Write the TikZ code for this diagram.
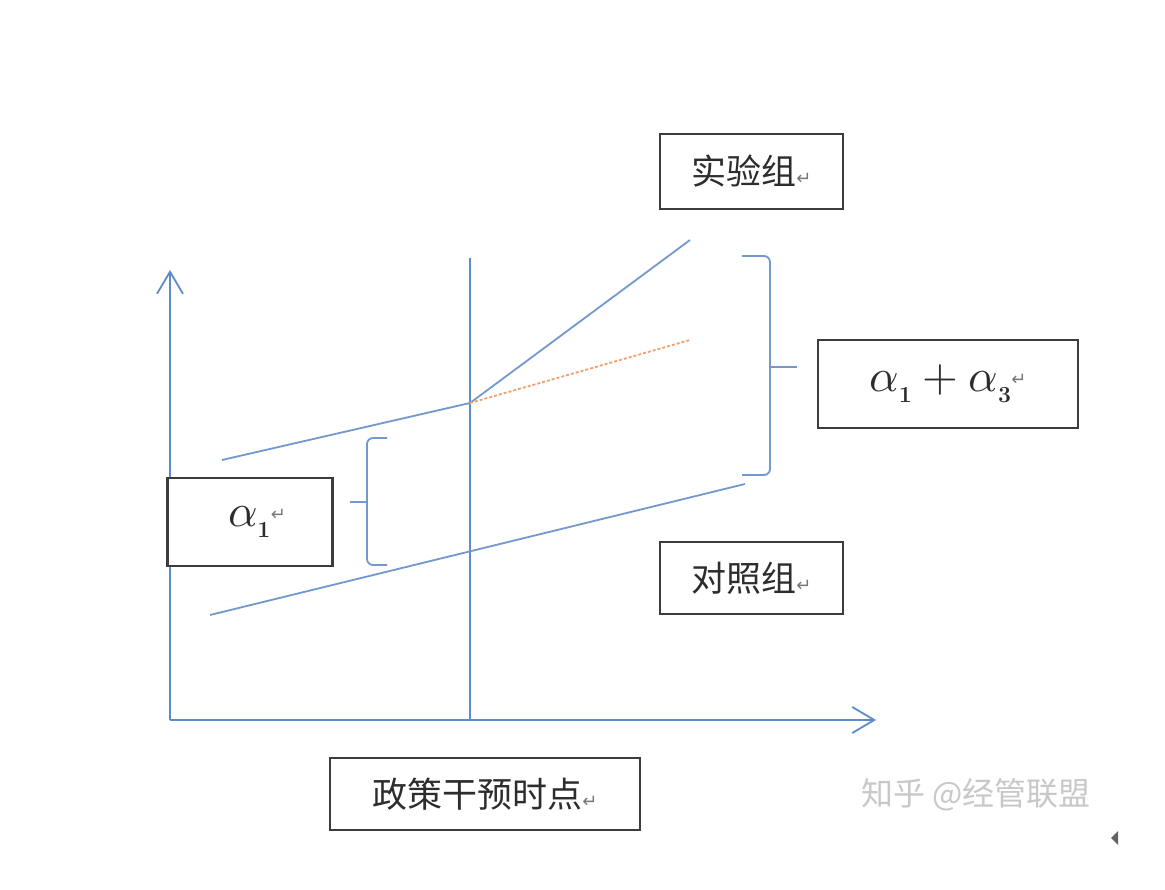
\documentclass[tikz,border=0pt]{standalone}
\usepackage{fontspec}
\usepackage{unicode-math}
\usetikzlibrary{arrows.meta}
\newfontfamily\cjk{Noto Sans CJK SC}
\newfontfamily\dv{DejaVu Sans}
\definecolor{axblue}{RGB}{95,140,200}
\definecolor{lnblue}{RGB}{115,152,205}
\definecolor{dashorange}{RGB}{242,160,110}
\definecolor{boxgray}{RGB}{60,60,60}
\definecolor{txtgray}{RGB}{45,45,45}
\definecolor{retgray}{RGB}{120,120,120}
\definecolor{wmgray}{RGB}{200,200,200}
\newcommand\retmark{{\dv\fontsize{18}{18}\selectfont\color{retgray}↵}}
\begin{document}
\begin{tikzpicture}[x=1pt,y=-1pt,
  ax/.style={draw=axblue,line width=1.8pt},
  ln/.style={draw=lnblue,line width=1.8pt},
  brc/.style={draw=lnblue,line width=1.8pt,rounded corners=6pt},
  dsh/.style={draw=dashorange,line width=1.8pt,dash pattern=on 3pt off 2pt},
  lbox/.style={draw=boxgray,line width=2.8pt,fill=white,inner sep=0pt,align=center,text=txtgray},
  arr/.style={-{Straight Barb[length=22pt,width=26pt]}}
 ]
\fill[white] (0,0) rectangle (1165,890);
\useasboundingbox (0,0) rectangle (1165,890);
% coordinates
\coordinate (O) at (170,720);
\coordinate (Ytop) at (170,270);
\coordinate (Xend) at (876,720);
\coordinate (V0) at (470,258);
\coordinate (V1) at (470,720);
\coordinate (T0) at (222,460);
\coordinate (K) at (470,403);
\coordinate (T1) at (690,240);
\coordinate (D1) at (690,340);
\coordinate (C0) at (210,615);
\coordinate (C1) at (745,484);
% axes
\draw[ax,arr] (O) -- (Ytop);
\draw[ax,arr] (O) -- (Xend);
\draw[ax] (V0) -- (V1);
% lines
\draw[ln] (T0) -- (K) -- (T1);
\draw[dsh] (K) -- (D1);
\draw[ln] (C0) -- (C1);
% braces
\coordinate (LB0) at (387,438);
\coordinate (LB1) at (387,565);
\coordinate (LBt) at (350,502);
\draw[brc] (LB0) -- (367,438) -- (367,565) -- (LB1);
\draw[ln] (LBt) -- (367,502);
\coordinate (RB0) at (742,256);
\coordinate (RB1) at (742,475);
\coordinate (RBt) at (797,367);
\draw[brc] (RB0) -- (770,256) -- (770,475) -- (RB1);
\draw[ln] (770,367) -- (RBt);
% boxes
\node[lbox,minimum width=183pt,minimum height=75pt] (exp) at (751.5,171.5) {{\cjk\fontsize{35}{40}\selectfont 实验组}\retmark};
\node[lbox,minimum width=183pt,minimum height=72pt] (ctl) at (751.5,578) {{\cjk\fontsize{35}{40}\selectfont 对照组}\retmark};
\node[lbox,minimum width=310pt,minimum height=72pt] (pol) at (485,794) {{\cjk\fontsize{35}{40}\selectfont 政策干预时点}\retmark};
\node[lbox,minimum width=260pt,minimum height=88pt] (sum) at (948,384) {\fontsize{46}{50}\selectfont$\alpha_{\scriptscriptstyle\mathbf{1}}+\alpha_{\scriptscriptstyle\mathbf{3}}$\raisebox{6pt}{\retmark}};
\node[lbox,minimum width=165pt,minimum height=88pt] (a1) at (250,522) {\hspace*{14pt}\fontsize{46}{50}\selectfont$\alpha_{\scriptscriptstyle\mathbf{1}}$\raisebox{6pt}{\retmark}};
% watermark
\node[font=\cjk\fontsize{32}{36}\selectfont,text=wmgray] (wm) at (976,795) {知乎 @经管联盟};
\fill[boxgray!80] (1111,838) -- (1118,831) -- (1118,845) -- cycle;
\end{tikzpicture}
\end{document}
